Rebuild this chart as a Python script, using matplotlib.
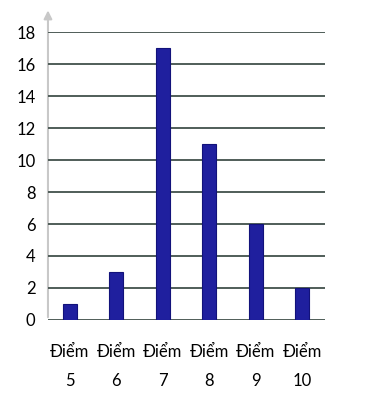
import matplotlib.pyplot as plt

categories = ["Điểm\n5", "Điểm\n6", "Điểm\n7", "Điểm\n8", "Điểm\n9", "Điểm\n10"]
counts = [1, 3, 17, 11, 6, 2]
y_ticks = [0, 2, 4, 6, 8, 10, 12, 14, 16, 18]

plt.rcParams["font.family"] = ["Lato", "DejaVu Sans"]

fig = plt.figure(figsize=(3.69, 3.96), dpi=100)
ax = fig.add_axes([0.130, 0.192, 0.751, 0.727])

for y in y_ticks:
    ax.axhline(y, color="#4f5d58", linewidth=1.4, zorder=1)

x = list(range(len(categories)))
ax.bar(x, counts, width=0.3, color="#1f1f9e", edgecolor="#12127a", linewidth=0.8, zorder=2)

ax.set_xlim(-0.47, 5.49)
ax.set_ylim(0, 18)
ax.set_yticks(y_ticks)
ax.set_yticklabels([str(v) for v in y_ticks], fontsize=12)
ax.set_xticks(x)
ax.set_xticklabels(categories, fontsize=12, linespacing=2.0)
ax.tick_params(axis="both", length=0)
ax.tick_params(axis="x", pad=17)
ax.tick_params(axis="y", pad=9)

for side in ["top", "right", "bottom", "left"]:
    ax.spines[side].set_visible(False)

# y axis with arrow
ax.annotate("", xy=(0, 1.085), xycoords="axes fraction",
            xytext=(0, 0), textcoords="axes fraction",
            arrowprops=dict(arrowstyle="-|>", color="#c8c8c8", lw=1.5,
                            mutation_scale=12), zorder=0)

fig.savefig("out.png", dpi=100)
